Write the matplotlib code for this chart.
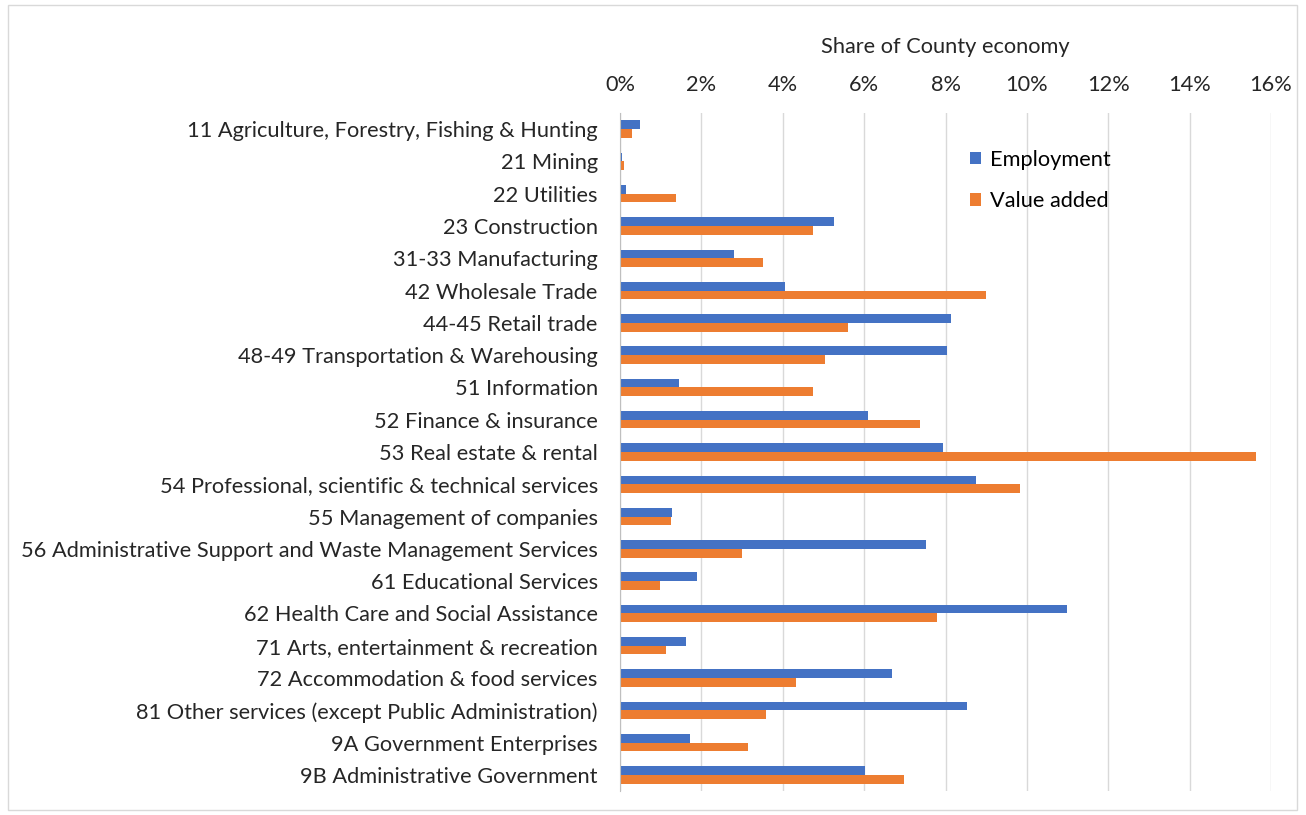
import matplotlib
matplotlib.use("Agg")
import numpy as np
from matplotlib import pyplot as plt
from matplotlib.patches import Rectangle
from matplotlib.ticker import FuncFormatter, MultipleLocator

# industry sectors, top to bottom
sectors = [
    "11 Agriculture, Forestry, Fishing & Hunting",
    "21 Mining",
    "22 Utilities",
    "23 Construction",
    "31-33 Manufacturing",
    "42 Wholesale Trade",
    "44-45 Retail trade",
    "48-49 Transportation & Warehousing",
    "51 Information",
    "52 Finance & insurance",
    "53 Real estate & rental",
    "54 Professional, scientific & technical services",
    "55 Management of companies",
    "56 Administrative Support and Waste Management Services",
    "61 Educational Services",
    "62 Health Care and Social Assistance",
    "71 Arts, entertainment & recreation",
    "72 Accommodation & food services",
    "81 Other services (except Public Administration)",
    "9A Government Enterprises",
    "9B Administrative Government",
]

# share of county economy, percent
employment = [0.49, 0.05, 0.15, 5.25, 2.79, 4.06, 8.13, 8.03, 1.45, 6.09, 7.93,
              8.76, 1.28, 7.52, 1.90, 10.99, 1.62, 6.68, 8.52, 1.72, 6.02]
value_added = [0.29, 0.10, 1.37, 4.74, 3.51, 8.99, 5.60, 5.05, 4.74, 7.37, 15.62,
               9.82, 1.26, 3.01, 0.99, 7.80, 1.12, 4.33, 3.58, 3.15, 6.97]

plt.rcParams['font.family'] = ['Lato', 'DejaVu Sans']
fs = 15.7

fig = plt.figure(figsize=(13.06, 8.15), dpi=100)
ax = fig.add_axes([620/1306, 1 - 791/815, 651/1306, 678/815])

y = np.arange(len(sectors))
h = 0.27
ax.barh(y - h/2, employment, height=h, color="#4472C4", label="Employment", zorder=3)
ax.barh(y + h/2, value_added, height=h, color="#ED7D31", label="Value added", zorder=3)

ax.set_ylim(len(sectors) - 0.5, -0.5)
ax.set_xlim(0, 16)
ax.set_yticks(y)
ax.set_yticklabels(sectors, fontsize=fs, color="#262626")

ax.xaxis.set_major_locator(MultipleLocator(2))
ax.xaxis.set_major_formatter(FuncFormatter(lambda v, p: f"{v:.0f}%"))
ax.xaxis.tick_top()
ax.xaxis.set_label_position("top")
ax.set_xlabel("Share of County economy", fontsize=fs, color="#262626", labelpad=16)
ax.tick_params(axis="x", length=0, labelsize=fs, labelcolor="#262626", pad=13)
ax.tick_params(axis="y", length=0, pad=16)

ax.grid(axis="x", color="#d9d9d9", linewidth=1, zorder=0)
for side in ["top", "right", "bottom"]:
    ax.spines[side].set_visible(False)
ax.spines["left"].set_color("#bfbfbf")
ax.spines["left"].set_zorder(4)

ax.legend(loc="upper left", bbox_to_anchor=(0.508, 0.975), frameon=False,
          fontsize=fs, handlelength=0.5, handleheight=0.5, handletextpad=0.4,
          labelspacing=1.0)

# thin frame around the whole chart
fig.patches.append(Rectangle((8/1306, 5/815), 1289/1306, 805/815, transform=fig.transFigure,
                             fill=False, edgecolor="#d9d9d9", linewidth=1))

fig.savefig("out.png", dpi=100, facecolor="white")
